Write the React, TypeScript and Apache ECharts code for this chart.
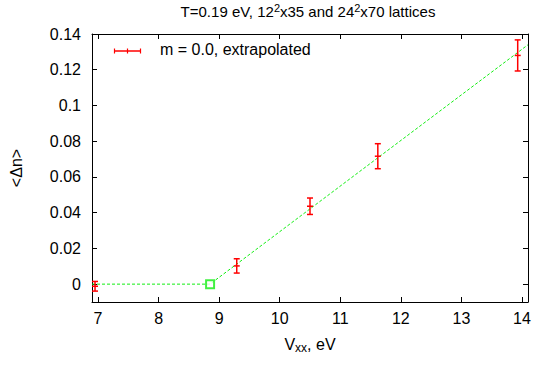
import React, { useEffect, useRef } from "react";
import * as echarts from "echarts";

const titleText = "T=0.19 eV, 12{sup|2}x35 and 24{sup|2}x70 lattices";
const legendLabel = "m = 0.0, extrapolated";
const xTicks = [7, 8, 9, 10, 11, 12, 13, 14];
const yTicks = [0, 0.02, 0.04, 0.06, 0.08, 0.1, 0.12, 0.14];
// [V_xx, <Δn>, error]
const points: number[][] = [
  [6.95, -0.0012, 0.0027],
  [9.29, 0.0102, 0.004],
  [10.5, 0.0436, 0.0046],
  [11.62, 0.0716, 0.007],
  [13.93, 0.128, 0.0087],
];
const fitLine: number[][] = [
  [6.9, 0],
  [8.85, 0],
  [14.1, 0.134],
];
const transitionPoint: number[][] = [[8.85, 0]];

const FONT = "Liberation Sans, Arial, Helvetica, sans-serif";
const RED = "#ff0000";
const GREEN = "#11ee11";

export default function App() {
  const ref = useRef<HTMLDivElement>(null);
  useEffect(() => {
    const chart = echarts.init(ref.current!, null, { renderer: "svg" });
    const axisLine = { show: true, onZero: false, lineStyle: { color: "#000", width: 1 } };
    const tick = { show: true, inside: true, length: 5, lineStyle: { color: "#000" } };
    chart.setOption({
      animation: false,
      backgroundColor: "#fff",
      textStyle: { fontFamily: FONT },
      title: {
        text: titleText,
        left: 303,
        top: -3,
        textAlign: "center",
        textStyle: {
          fontFamily: FONT,
          fontSize: 15,
          fontWeight: "normal",
          color: "#000",
          rich: {
            sup: { fontSize: 11, verticalAlign: "top", padding: [0, 0, 8, 0], fontFamily: FONT, color: "#000" },
          },
        },
      },
      grid: { left: 92, right: 6, top: 34, bottom: 63, containLabel: false, outerBoundsMode: "none" },
      xAxis: [
        {
          type: "value",
          min: 6.9,
          max: 14.1,
          name: "V{sub|xx}, eV",
          nameLocation: "middle",
          nameGap: 32,
          nameTextStyle: {
            fontFamily: FONT,
            fontSize: 16,
            color: "#000",
            rich: { sub: { fontSize: 12, padding: [8, 0, 0, 0], fontFamily: FONT, color: "#000" } },
          },
          axisLine,
          axisTick: { ...tick, customValues: xTicks },
          axisLabel: { customValues: xTicks, fontSize: 16, color: "#000", margin: 8, fontFamily: FONT },
          splitLine: { show: false },
        },
        {
          type: "value",
          position: "top",
          min: 6.9,
          max: 14.1,
          axisLine,
          axisTick: { ...tick, customValues: xTicks },
          axisLabel: { show: false, customValues: xTicks },
          splitLine: { show: false },
        },
      ],
      yAxis: [
        {
          type: "value",
          min: -0.01,
          max: 0.14,
          name: "<Δn>",
          nameLocation: "middle",
          nameGap: 68,
          nameTextStyle: { fontFamily: FONT, fontSize: 16, color: "#000" },
          axisLine,
          axisTick: { ...tick, customValues: yTicks },
          axisLabel: {
            customValues: yTicks,
            fontSize: 16,
            color: "#000",
            margin: 11,
            fontFamily: FONT,
            formatter: (v: number) => String(Math.round(v * 100) / 100),
          },
          splitLine: { show: false },
        },
        {
          type: "value",
          position: "right",
          min: -0.01,
          max: 0.14,
          axisLine,
          axisTick: { ...tick, customValues: yTicks },
          axisLabel: { show: false, customValues: yTicks },
          splitLine: { show: false },
        },
      ],
      graphic: [
        {
          type: "group",
          left: 112,
          top: 46,
          children: [
            { type: "line", shape: { x1: 0, y1: 4, x2: 26, y2: 4 }, style: { stroke: RED, lineWidth: 1.5 } },
            { type: "line", shape: { x1: 0, y1: 1.5, x2: 0, y2: 6.5 }, style: { stroke: RED, lineWidth: 1.2 } },
            { type: "line", shape: { x1: 13, y1: 1.5, x2: 13, y2: 6.5 }, style: { stroke: RED, lineWidth: 1.2 } },
            { type: "line", shape: { x1: 26, y1: 1.5, x2: 26, y2: 6.5 }, style: { stroke: RED, lineWidth: 1.2 } },
          ],
        },
        {
          type: "text",
          left: 160,
          top: 41,
          style: { text: legendLabel, fontSize: 16, fontFamily: FONT, fill: "#000" },
        },
      ],
      series: [
        {
          type: "line",
          data: fitLine,
          showSymbol: false,
          symbol: "none",
          lineStyle: { color: GREEN, width: 1, type: [3, 2] },
          z: 2,
        },
        {
          type: "scatter",
          data: transitionPoint,
          symbol: "emptyRect",
          symbolSize: 8,
          itemStyle: { color: GREEN, borderColor: GREEN, borderWidth: 1 },
          z: 3,
        },
        {
          type: "custom",
          data: points,
          z: 4,
          renderItem: (params: any, api: any) => {
            const x = api.value(0);
            const y = api.value(1);
            const e = api.value(2);
            const c = api.coord([x, y]);
            const lo = api.coord([x, y - e]);
            const hi = api.coord([x, y + e]);
            const st = { stroke: RED, lineWidth: 1.5 };
            const cap = 3;
            return {
              type: "group",
              children: [
                { type: "line", shape: { x1: c[0], y1: lo[1], x2: c[0], y2: hi[1] }, style: st },
                { type: "line", shape: { x1: c[0] - cap, y1: lo[1], x2: c[0] + cap, y2: lo[1] }, style: st },
                { type: "line", shape: { x1: c[0] - cap, y1: hi[1], x2: c[0] + cap, y2: hi[1] }, style: st },
                { type: "line", shape: { x1: c[0] - cap, y1: c[1], x2: c[0] + cap, y2: c[1] }, style: st },
              ],
            };
          },
        },
      ],
    });
    return () => chart.dispose();
  }, []);
  return <div ref={ref} style={{ width: 534, height: 365, position: "absolute", left: 0, top: 0 }} />;
}
